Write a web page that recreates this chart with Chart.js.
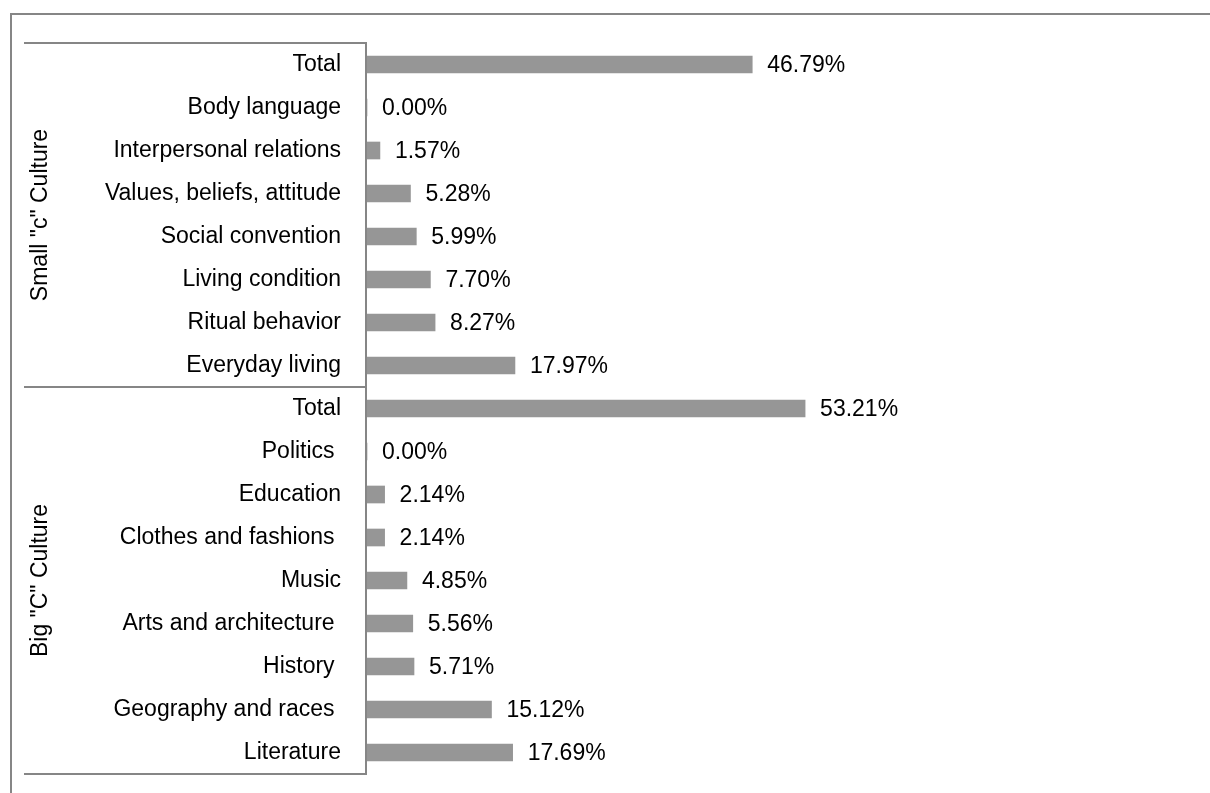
<!DOCTYPE html>
<html>
<head>
<meta charset="utf-8">
<script src="https://cdn.jsdelivr.net/npm/chart.js@4.4.1/dist/chart.umd.min.js"></script>
<style>
  html, body { margin: 0; padding: 0; background: #fff; }
  #wrap { width: 1210px; height: 793px; }
</style>
</head>
<body>
<div id="wrap"><canvas id="myChart" width="1210" height="793"></canvas></div>
<script>
// data, top to bottom as in the picture
var smallLabels = ['Total', 'Body language', 'Interpersonal relations', 'Values, beliefs, attitude',
                   'Social convention', 'Living condition', 'Ritual behavior', 'Everyday living'];
var smallValues = [46.79, 0.00, 1.57, 5.28, 5.99, 7.70, 8.27, 17.97];
var bigLabels = ['Total', 'Politics ', 'Education', 'Clothes and fashions ', 'Music',
                 'Arts and architecture ', 'History ', 'Geography and races ', 'Literature'];
var bigValues = [53.21, 0.00, 2.14, 2.14, 4.85, 5.56, 5.71, 15.12, 17.69];
var groupNames = ['Small "c" Culture', 'Big "C" Culture'];

var allLabels = smallLabels.concat(bigLabels);
var allValues = smallValues.concat(bigValues);
var groupSizes = [smallLabels.length, bigLabels.length];

var FONT = '"Liberation Sans", Arial, sans-serif';
var LINE = '#868686';

// value labels at the end of every bar
var valueLabels = {
    id: 'valueLabels',
    afterDatasetsDraw: function(chart) {
        var ctx = chart.ctx;
        var meta = chart.getDatasetMeta(0);
        ctx.save();
        ctx.font = '23px ' + FONT;
        ctx.fillStyle = '#000';
        ctx.textAlign = 'left';
        ctx.textBaseline = 'middle';
        meta.data.forEach(function(bar, i) {
            ctx.fillText(allValues[i].toFixed(2) + '%', bar.x + 15, bar.y + 1);
        });
        ctx.restore();
    }
};

// frame, axis line, group separators and group names
var groupAxis = {
    id: 'groupAxis',
    afterDraw: function(chart) {
        var ctx = chart.ctx;
        var area = chart.chartArea;
        var yScale = chart.scales.y;
        ctx.save();
        ctx.strokeStyle = LINE;
        ctx.lineWidth = 2;
        // outer frame (runs off the right and bottom)
        ctx.beginPath();
        ctx.moveTo(11, 800);
        ctx.lineTo(11, 14);
        ctx.lineTo(1215, 14);
        ctx.stroke();
        // axis line
        ctx.beginPath();
        ctx.moveTo(area.left - 1, area.top);
        ctx.lineTo(area.left - 1, area.bottom);
        ctx.stroke();
        // separators and names
        var half = (yScale.getPixelForValue(1) - yScale.getPixelForValue(0)) / 2;
        var start = 0;
        ctx.font = '23px ' + FONT;
        ctx.fillStyle = '#000';
        ctx.textAlign = 'center';
        ctx.textBaseline = 'middle';
        for (var g = 0; g < groupSizes.length; g++) {
            var yTop = yScale.getPixelForValue(start) - half;
            var yBot = yScale.getPixelForValue(start + groupSizes[g] - 1) + half;
            ctx.beginPath();
            ctx.moveTo(24, yTop);
            ctx.lineTo(area.left, yTop);
            ctx.stroke();
            if (g == groupSizes.length - 1) {
                ctx.beginPath();
                ctx.moveTo(24, yBot);
                ctx.lineTo(area.left, yBot);
                ctx.stroke();
            }
            ctx.save();
            ctx.translate(41, (yTop + yBot) / 2);
            ctx.rotate(-Math.PI / 2);
            ctx.fillText(groupNames[g], 0, 0);
            ctx.restore();
            start += groupSizes[g];
        }
        ctx.restore();
    }
};

var ctx = document.getElementById('myChart').getContext('2d');
var myChart = new Chart(ctx, {
    type: 'bar',
    data: {
        labels: allLabels,
        datasets: [{
            data: allValues,
            backgroundColor: '#969696',
            borderWidth: 0,
            barThickness: 17
        }]
    },
    options: {
        indexAxis: 'y',
        responsive: false,
        animation: false,
        events: [],
        layout: { padding: { top: 43, bottom: 19, left: 0, right: 349 } },
        plugins: {
            legend: { display: false },
            tooltip: { enabled: false }
        },
        scales: {
            x: { display: false, min: 0, max: 60 },
            y: {
                afterFit: function(scale) {
                    scale.width = 367;
                    scale.paddingTop = 0;
                    scale.paddingBottom = 0;
                },
                grid: { display: false, drawTicks: false },
                border: { display: false },
                ticks: {
                    padding: 26,
                    color: '#000',
                    font: { family: FONT, size: 23 },
                    autoSkip: false
                }
            }
        }
    },
    plugins: [valueLabels, groupAxis]
});
</script>
</body>
</html>
